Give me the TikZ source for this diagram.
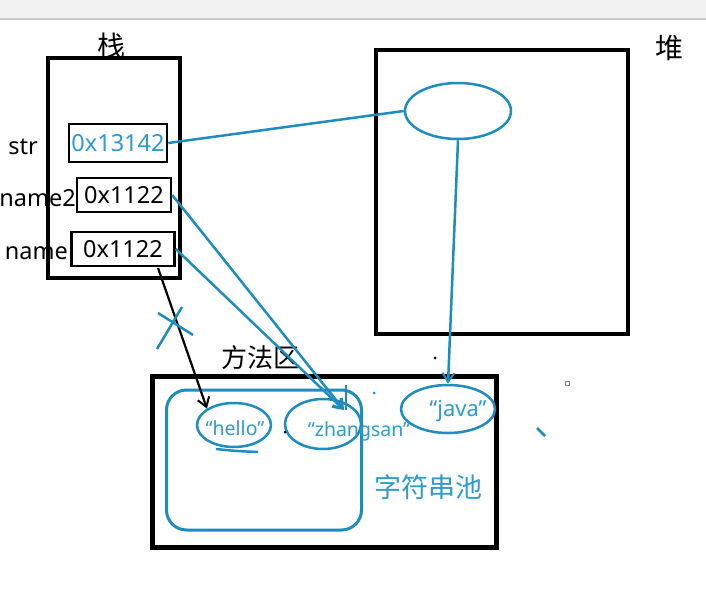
\documentclass[tikz,border=0pt]{standalone}
\usepackage{fontspec}
\setmainfont{Noto Sans}
\newfontfamily\cjk{Noto Sans CJK SC}
\usetikzlibrary{shapes.geometric,arrows.meta}
\definecolor{tl}{RGB}{30,140,190}
\definecolor{tltext}{RGB}{45,155,205}
\tikzset{
  blkbox/.style={draw=black, line width=4pt, inner sep=0pt, anchor=center},
  membox/.style={draw=black, line width=2.5pt, inner sep=0pt, font=\fontsize{23.5}{27}\selectfont},
  varlabel/.style={anchor=east, inner sep=0pt, font=\fontsize{23.5}{27}\selectfont},
  cjklabel/.style={inner sep=0pt, font=\cjk\fontsize{28}{32}\selectfont},
  strell/.style={ellipse, draw=tl, line width=2.5pt, inner sep=0pt},
  strtext/.style={text=tltext, inner sep=0pt, font=\fontsize{19.5}{23}\selectfont},
  tline/.style={draw=tl, line width=2.5pt},
  barb/.style={-{Straight Barb[length=9pt,width=12pt,line width=2pt]}}
}
\begin{document}
\begin{tikzpicture}[x=1pt,y=-1pt]
\useasboundingbox (0,0) rectangle (706,591);
\fill[white] (0,0) rectangle (706,591);
\fill[gray!10] (0,0) rectangle (706,18);
\draw[gray!40, line width=1.5pt] (0,19) -- (706,19);

% stack
\node[blkbox, minimum width=132pt, minimum height=220pt] (stack) at (114,168) {};
\node[cjklabel] (stacklbl) at (111,46) {栈};
\node[membox, minimum width=98pt, minimum height=38pt] (strbox) at (118,143) {\textcolor{tltext}{0x13142}};
\node[membox, minimum width=94pt, minimum height=34pt] (name2box) at (124,195) {0x1122};
\node[membox, minimum width=103pt, minimum height=34pt] (namebox) at (123,249) {0x1122};
\node[varlabel] (strlbl) at (38,147) {str};
\node[varlabel] (name2lbl) at (76,198) {name2};
\node[varlabel] (namelbl) at (68,253) {name};

% heap
\node[blkbox, minimum width=252pt, minimum height=284pt] (heap) at (502,192) {};
\node[cjklabel] (heaplbl) at (669,48) {堆};
\node[strell, minimum width=106pt, minimum height=56pt] (heapobj) at (458,111) {};

% method area
\node[cjklabel, font=\cjk\fontsize{26}{30}\selectfont] (methodlbl) at (260,358) {方法区};
\node[blkbox, line width=5pt, minimum width=344pt, minimum height=171pt] (method) at (324,462) {};
\node[draw=tl, line width=3pt, rounded corners=20pt, minimum width=195pt, minimum height=140pt, inner sep=0pt] (pool) at (264,460) {};
\node[cjklabel, text=tltext, font=\cjk\fontsize{27}{30}\selectfont] (poollbl) at (428,487) {字符串池};

\node[strell, minimum width=74pt, minimum height=44pt] (hello) at (234,425) {};
\node[strell, minimum width=76pt, minimum height=50pt] (zhang) at (323,424) {};
\node[strell, minimum width=94pt, minimum height=48pt] (java) at (448,409) {};
\node[strtext] (hellotxt) at (235,428) {“hello”};
\node[strtext] (zhangtxt) at (359,431) {“zhangsan”};
\node[strtext, font=\fontsize{22}{25}\selectfont] (javatxt) at (458,411) {“java”};

% connectors
\draw[tline] (strbox.east) -- (heapobj.west);
\coordinate (zhtip) at (344,410);
\draw[tline, barb] (name2box.east) -- (zhtip);
\draw[tline, barb] (namebox.east) -- (zhtip);
\draw[tline] (346,385) -- (346,410);
\draw[tline, barb] (heapobj.south) -- (java.north);
\coordinate (nbstart) at (158,268);
\draw[black, line width=2.2pt, barb] (nbstart) -- (hello.north west);

% cross mark
\draw[tline] (158,313) -- (193,335);
\draw[tline] (157,349) -- (182,307);

% underline under hello
\draw[tline] (216,449) .. controls (235,451) .. (258,452);

% stray marks
\fill[black] (435,358) circle (1.5pt);
\fill[black] (285,432) circle (1.5pt);
\fill[tl] (374,393) circle (1.5pt);
\draw[tline] (537,428) -- (545,436);
\draw[gray, line width=1pt] (565,381) rectangle (569,385);
\end{tikzpicture}
\end{document}
